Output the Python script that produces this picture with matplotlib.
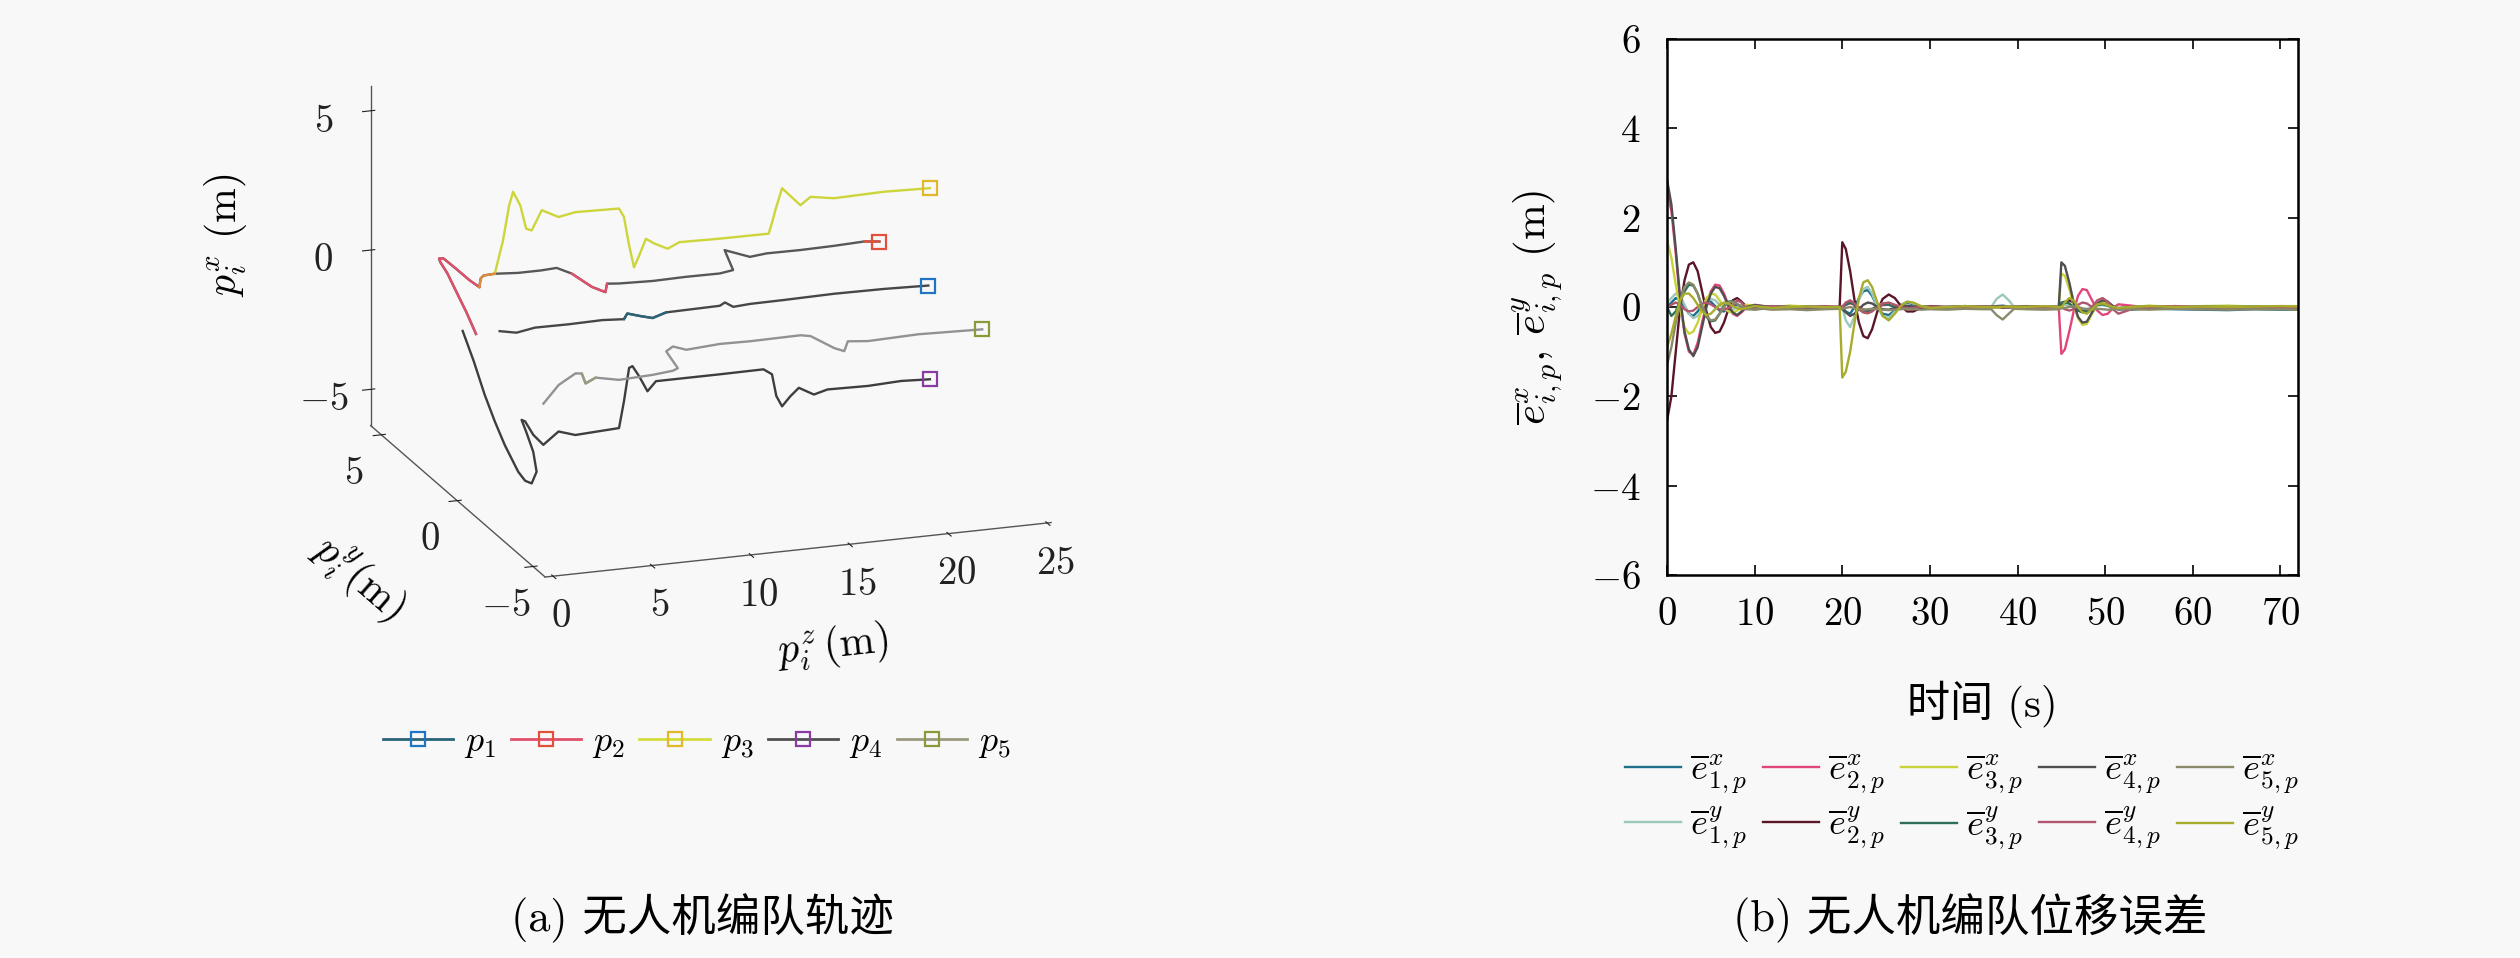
import matplotlib
matplotlib.use("Agg")
import matplotlib.pyplot as plt
from matplotlib.legend_handler import HandlerTuple
from matplotlib.lines import Line2D

plt.rcParams['font.family'] = ['cmr10', 'Noto Sans CJK SC', 'DejaVu Sans']
plt.rcParams['mathtext.fontset'] = 'cm'
plt.rcParams['axes.formatter.use_mathtext'] = True
plt.rcParams['axes.unicode_minus'] = True

# ---------------- (a) UAV formation trajectories ----------------
# columns: p^z (forward), p^y (lateral), p^x (vertical)
p1_z = [1.75, 2.60, 3.54, 5.24, 6.94, 8.04, 8.21, 8.81, 9.49, 10.17, 12.89, 13.15, 13.57, 14.42, 16.12, 18.67, 21.22, 23.44]
p1_y = [0.0] * 18
p1_x = [-0.38, -0.50, -0.39, -0.40, -0.38, -0.43, -0.24, -0.37, -0.50, -0.35, -0.32, -0.22, -0.41, -0.37, -0.36, -0.33, -0.35, -0.40]

p2_z = [3.24, 2.76, 2.30, 1.79, 1.44, 1.37, 1.59, 2.20, 2.92, 3.41, 3.48, 3.63, 4.18, 5.37, 6.55, 7.32, 8.08, 9.11, 9.79, 9.87,
        10.47, 12.17, 13.87, 15.57, 16.25, 15.82, 16.42, 17.10, 17.95, 19.65, 21.35, 22.88, 23.65]
p2_y = [3.5] * 33
p2_x = [-2.25, -1.44, -0.74, 0.04, 0.46, 0.60, 0.59, 0.19, -0.30, -0.58, -0.27, -0.18, -0.16, -0.22, -0.22, -0.19, -0.45, -1.01, -1.25, -0.95,
        -0.99, -1.03, -1.01, -1.02, -0.95, -0.20, -0.36, -0.54, -0.48, -0.49, -0.47, -0.43, -0.49]

p3_z = [1.50, 1.92, 2.23, 2.43, 2.79, 3.09, 3.37, 3.88, 4.73, 5.58, 7.79, 8.04, 8.30, 8.55, 8.81, 9.15, 9.57, 10.25, 10.85, 12.89,
        15.36, 15.54, 15.70, 16.04, 16.46, 16.97, 17.48, 18.66, 21.21, 23.52]
p3_y = [0.0] * 30
p3_x = [1.69, 2.86, 4.10, 4.57, 4.06, 3.20, 3.11, 3.80, 3.49, 3.60, 3.56, 3.24, 2.20, 1.39, 1.80, 2.37, 2.17, 1.93, 2.12, 2.09,
        2.08, 2.48, 2.90, 3.66, 3.35, 2.98, 3.24, 3.10, 3.14, 3.09]

p4_z = [-0.12, 0.44, 0.99, 1.51, 2.01, 2.69, 3.04, 3.37, 3.62, 3.45, 3.09, 2.86, 3.04, 3.45, 3.96, 4.73, 5.58, 7.79, 8.04, 8.30,
        8.47, 8.81, 9.23, 9.66, 10.51, 12.89, 15.10, 15.53, 15.75, 16.04, 16.46, 16.89, 17.65, 18.34, 20.38, 22.07, 23.52]
p4_y = [0.0] * 37
p4_x = [-0.23, -1.36, -2.60, -3.61, -4.49, -5.50, -5.85, -5.97, -5.57, -4.84, -4.09, -3.65, -3.72, -4.23, -4.63, -4.21, -4.40, -4.32, -3.38, -2.20,
        -2.15, -2.54, -3.11, -2.78, -2.78, -2.78, -2.77, -2.98, -3.78, -4.17, -3.84, -3.57, -3.87, -3.74, -3.77, -3.72, -3.77]

p5_z = [1.28, 2.05, 2.90, 3.22, 3.41, 3.92, 5.11, 6.81, 7.83, 8.08, 7.49, 7.83, 8.51, 10.21, 11.74, 14.29, 14.80, 15.99, 16.50, 16.68,
        17.70, 20.25, 23.48]
p5_y = [-3.5] * 23
p5_x = [-1.29, -0.68, -0.33, -0.36, -0.73, -0.56, -0.73, -0.68, -0.61, -0.54, 0.11, 0.26, 0.09, 0.17, 0.15, 0.17, 0.10, -0.42, -0.57, -0.23,
        -0.30, -0.25, -0.32]

traj_labels = [r'$p_1$', r'$p_2$', r'$p_3$', r'$p_4$', r'$p_5$']

# ---------------- (b) position errors ----------------
t = [0, 0.5, 1, 1.5, 2, 2.5, 3, 3.5, 4, 4.5,
     5, 5.5, 6, 6.5, 7, 7.5, 8, 8.5, 9, 10,
     11, 12, 14, 16, 18, 19.7, 20, 20.4, 20.9, 21.4,
     21.9, 22.4, 22.9, 23.4, 24, 24.6, 25.3, 26, 26.7, 27.4,
     28.1, 29, 30, 32, 34, 36, 37, 37.6, 38.3, 39,
     39.6, 41, 43, 44.7, 45, 45.4, 45.9, 46.4, 46.9, 47.4,
     47.9, 48.5, 49.1, 49.7, 50.3, 50.9, 51.5, 53, 55, 58,
     61, 64, 67, 70, 72]

e1x = [0, 0.10, 0.20, 0.15, 0.00, -0.15, -0.20, -0.10, 0.05, 0.15,
       0.12, 0.02, -0.08, -0.10, -0.04, 0.03, 0.05, 0.02, -0.02, -0.03,
       -0.01, 0.01, 0.02, 0.00, -0.02, 0.00, 0.00, -0.10, -0.15, 0.00,
       0.20, 0.35, 0.38, 0.25, 0.00, -0.15, -0.18, -0.08, 0.05, 0.10,
       0.06, 0.00, -0.03, 0.00, 0.02, 0.00, -0.01, 0.02, 0.03, 0.01,
       0.00, -0.02, 0.00, 0.00, 0.05, 0.08, 0.05, -0.02, -0.08, -0.10,
       -0.08, 0.00, 0.06, 0.08, 0.04, -0.02, -0.05, -0.06, -0.03, -0.05,
       -0.06, -0.07, -0.05, -0.06, -0.06]
e2x = [2.60, 2.15, 1.20, 0.10, -0.60, -1.00, -1.07, -0.80, -0.35, 0.05,
       0.35, 0.50, 0.48, 0.30, 0.05, -0.15, -0.20, -0.12, -0.02, 0.05,
       0.02, 0.00, -0.03, 0.00, 0.02, 0.00, 0.02, 0.05, 0.08, 0.05,
       0.00, -0.05, -0.08, -0.05, 0.00, 0.04, 0.05, 0.02, -0.02, -0.03,
       0.00, 0.01, 0.00, -0.02, 0.00, 0.01, 0.00, 0.00, 0.02, 0.00,
       0.00, -0.02, 0.00, 0.00, -1.05, -0.95, -0.55, -0.10, 0.25, 0.40,
       0.38, 0.15, -0.08, -0.18, -0.15, -0.02, 0.06, 0.03, -0.02, 0.02,
       -0.03, 0.00, -0.03, -0.04, -0.04]
e3x = [1.50, 1.10, 0.50, -0.05, -0.45, -0.60, -0.55, -0.35, -0.05, 0.20,
       0.30, 0.28, 0.15, 0.00, -0.10, -0.13, -0.08, 0.00, 0.05, 0.03,
       -0.02, 0.00, 0.03, 0.01, -0.02, 0.00, 0.00, 0.08, 0.12, 0.06,
       -0.05, -0.12, -0.14, -0.08, 0.02, 0.08, 0.08, 0.03, -0.03, -0.05,
       -0.02, 0.02, 0.00, -0.02, 0.01, 0.00, 0.00, -0.02, 0.00, 0.01,
       0.00, 0.02, 0.00, 0.00, 0.75, 0.70, 0.40, 0.05, -0.25, -0.40,
       -0.38, -0.15, 0.05, 0.12, 0.10, 0.00, -0.05, 0.00, 0.03, 0.00,
       0.02, 0.03, 0.01, 0.02, 0.02]
e4x = [2.85, 2.30, 1.30, 0.20, -0.55, -0.95, -1.10, -0.90, -0.45, 0.00,
       0.30, 0.45, 0.42, 0.25, 0.02, -0.12, -0.18, -0.10, 0.00, 0.04,
       0.02, 0.00, -0.02, 0.01, 0.00, 0.00, -0.05, -0.12, -0.20, -0.15,
       -0.05, 0.05, 0.10, 0.08, 0.00, -0.05, -0.06, -0.02, 0.02, 0.03,
       0.01, 0.00, -0.02, 0.00, 0.02, 0.00, 0.00, 0.01, 0.00, -0.01,
       0.00, 0.01, 0.00, 0.00, 1.00, 0.92, 0.55, 0.10, -0.22, -0.35,
       -0.33, -0.12, 0.08, 0.15, 0.12, 0.02, -0.05, -0.02, 0.00, -0.02,
       -0.02, -0.03, -0.02, -0.03, -0.03]
e5x = [-1.30, -0.90, -0.35, 0.15, 0.45, 0.55, 0.50, 0.30, 0.02, -0.20,
       -0.30, -0.28, -0.15, 0.00, 0.10, 0.12, 0.07, 0.00, -0.05, -0.06,
       -0.04, -0.06, -0.05, -0.07, -0.05, -0.04, -0.04, -0.02, 0.00, -0.03,
       -0.05, -0.06, -0.05, -0.04, -0.05, -0.06, -0.07, -0.06, -0.05, -0.04,
       -0.05, -0.06, -0.05, -0.06, -0.04, -0.05, -0.05, -0.18, -0.28, -0.15,
       -0.04, -0.05, -0.06, -0.05, -0.03, -0.02, 0.00, 0.02, 0.00, -0.03,
       -0.05, -0.06, -0.04, -0.05, -0.06, -0.05, -0.04, -0.05, -0.06, -0.04,
       -0.05, -0.06, -0.05, -0.05, -0.06]
e1y = [0.10, 0.20, 0.30, 0.25, 0.05, -0.15, -0.25, -0.20, -0.05, 0.10,
       0.18, 0.15, 0.05, -0.05, -0.10, -0.06, 0.00, 0.04, 0.03, 0.00,
       -0.02, 0.00, 0.01, 0.00, -0.01, 0.00, 0.00, -0.30, -0.45, -0.20,
       0.15, 0.40, 0.45, 0.30, 0.00, -0.20, -0.25, -0.10, 0.05, 0.12,
       0.08, 0.00, -0.02, 0.00, 0.01, 0.00, 0.00, 0.18, 0.28, 0.15,
       0.00, -0.01, 0.00, 0.00, 0.03, 0.05, 0.03, 0.00, -0.03, -0.05,
       -0.04, 0.00, 0.03, 0.04, 0.02, 0.00, -0.02, 0.01, 0.00, 0.01,
       0.00, -0.01, 0.00, 0.00, 0.00]
e2y = [-2.55, -2.00, -1.00, 0.00, 0.60, 0.95, 1.00, 0.80, 0.35, -0.10,
       -0.45, -0.58, -0.55, -0.35, -0.05, 0.15, 0.20, 0.12, 0.02, -0.05,
       -0.03, 0.00, 0.02, 0.00, -0.02, 0.00, 1.45, 1.30, 0.80, 0.15,
       -0.35, -0.65, -0.70, -0.50, -0.10, 0.18, 0.28, 0.20, 0.02, -0.10,
       -0.10, -0.02, 0.02, 0.00, -0.02, 0.00, 0.01, 0.00, -0.02, 0.00,
       0.00, 0.02, 0.00, 0.00, 0.05, 0.10, 0.15, 0.10, 0.00, -0.10,
       -0.12, -0.05, 0.05, 0.10, 0.08, 0.00, -0.05, -0.02, 0.02, 0.00,
       -0.02, 0.02, -0.02, 0.00, 0.00]
e3y = [0.00, -0.20, -0.10, 0.15, 0.35, 0.50, 0.48, 0.30, 0.00, -0.22,
       -0.32, -0.30, -0.15, 0.02, 0.12, 0.13, 0.07, 0.00, -0.04, -0.03,
       0.00, 0.02, 0.00, -0.02, 0.00, 0.00, 0.00, 0.05, 0.10, 0.05,
       -0.05, -0.10, -0.10, -0.05, 0.02, 0.06, 0.05, 0.00, -0.03, -0.02,
       0.00, 0.01, 0.00, -0.01, 0.00, 0.00, 0.00, 0.00, 0.01, 0.00,
       0.00, 0.00, 0.00, 0.00, 0.10, 0.12, 0.08, 0.00, -0.08, -0.12,
       -0.10, -0.02, 0.05, 0.06, 0.03, -0.01, -0.03, 0.00, 0.01, 0.00,
       0.01, 0.00, 0.01, 0.00, 0.00]
e4y = [0.00, 0.05, 0.10, 0.05, -0.05, -0.10, -0.08, 0.00, 0.08, 0.10,
       0.06, 0.00, -0.05, -0.06, -0.02, 0.02, 0.15, 0.10, -0.02, -0.05,
       0.00, 0.02, 0.00, -0.01, 0.00, 0.00, 0.00, 0.10, 0.15, 0.08,
       -0.05, -0.12, -0.14, -0.10, 0.00, 0.08, 0.10, 0.05, 0.00, -0.03,
       -0.02, 0.00, 0.01, 0.00, 0.00, 0.01, 0.00, 0.00, 0.00, 0.00,
       0.00, 0.00, 0.00, 0.00, 0.00, -0.05, -0.08, -0.05, 0.05, 0.10,
       0.08, 0.00, 0.15, 0.20, 0.12, -0.05, -0.15, -0.05, 0.00, 0.02,
       0.00, -0.02, 0.00, -0.01, -0.01]
e5y = [-0.90, -0.60, -0.20, 0.15, 0.30, 0.30, 0.20, 0.05, -0.10, -0.18,
       -0.15, -0.05, 0.05, 0.10, 0.08, 0.02, -0.03, -0.05, -0.02, 0.02,
       0.00, -0.02, 0.00, 0.01, 0.00, 0.00, -1.58, -1.45, -1.00, -0.35,
       0.20, 0.55, 0.60, 0.45, 0.10, -0.20, -0.30, -0.15, 0.03, 0.12,
       0.10, 0.02, -0.02, 0.00, 0.02, 0.00, 0.00, 0.00, 0.00, 0.01,
       0.00, 0.00, 0.02, 0.00, 0.00, 0.10, 0.20, 0.15, 0.00, -0.12,
       -0.15, -0.05, 0.06, 0.08, 0.04, 0.00, -0.02, 0.00, 0.02, 0.00,
       0.01, 0.00, 0.01, 0.02, 0.01]

err_x = [e1x, e2x, e3x, e4x, e5x]
err_y = [e1y, e2y, e3y, e4y, e5y]
err_x_labels = [r'$\overline{e}^{x}_{%d,p}$' % i for i in range(1, 6)]
err_y_labels = [r'$\overline{e}^{y}_{%d,p}$' % i for i in range(1, 6)]
col_x = ['#1d6f8a', '#e0467a', '#c8d23a', '#4f4f4f', '#8a8a6a']
col_y = ['#9cc7bd', '#5a1628', '#2e6e5a', '#b0566e', '#a8ac2c']

# ---------------- figure ----------------
fig = plt.figure(figsize=(25.2, 9.58), dpi=100)
fig.patch.set_facecolor('#f8f8f8')

# ---- (a) 3D trajectories ----
ax3 = fig.add_axes([0.0784, 0.3128, 0.40, 0.72], projection='3d')
ax3.set_proj_type('ortho')
ax3.view_init(elev=17.8, azim=-109.4)
ax3.set_box_aspect((532, 521, 354), zoom=1.17)
ax3.set_facecolor('none')
for axis in (ax3.xaxis, ax3.yaxis, ax3.zaxis):
    axis.set_pane_color((1, 1, 1, 0))
    axis.line.set_color('#555555')
    axis.line.set_linewidth(1.0)
ax3.grid(False)

trajs = [(p1_z, p1_y, p1_x), (p2_z, p2_y, p2_x), (p3_z, p3_y, p3_x), (p4_z, p4_y, p4_x), (p5_z, p5_y, p5_x)]
main_col = ['#474747', '#575757', '#cdd53a', '#3e3e3e', '#929292']
leg_line_col = ['#2a6478', '#e0506a', '#d4dc3c', '#505050', '#9a9a7e']
mark_col = ['#1f74c4', '#e0503a', '#e0b828', '#8a3aa0', '#8a9a3a']
overlay_idx = [(5, 10), (0, 10), None, None, (3, 6)]
handles = []
for k, (zz, yy, xx) in enumerate(trajs):
    ax3.plot(zz, yy, xx, color=main_col[k], lw=1.7)
    if overlay_idx[k] is not None:
        a, b = overlay_idx[k]
        ax3.plot(zz[a:b], yy[a:b], xx[a:b], color=leg_line_col[k], lw=1.7)
    mk, = ax3.plot(zz[-1:], yy[-1:], xx[-1:], ls='none', marker='s', ms=10,
                   mfc='none', mec=mark_col[k], mew=1.6)
    proxy = Line2D([], [], color=leg_line_col[k], lw=2.0)
    handles.append((proxy, mk))
# extra coloured pieces of p2
ax3.plot(p2_z[9:13], p2_y[9:13], p2_x[9:13], color='#e08a3a', lw=1.7)
ax3.plot(p2_z[16:20], p2_y[16:20], p2_x[16:20], color='#e0506a', lw=1.7)
ax3.plot(p2_z[31:], p2_y[31:], p2_x[31:], color='#e0503a', lw=1.7)

ax3.set_xlim(-0.4, 25.2)
ax3.set_ylim(-5.8, 5.7)
ax3.set_zlim(-6.3, 5.9)
ax3.set_xticks([0, 5, 10, 15, 20, 25])
ax3.set_yticks([-5, 0, 5])
ax3.set_zticks([-5, 0, 5])
ax3.tick_params(labelsize=28, colors='#222222')
ax3.tick_params(axis='x', pad=4)
ax3.tick_params(axis='y', pad=6)
ax3.tick_params(axis='z', pad=10)
ax3.set_xlabel(r'$p_i^z\,(\mathrm{m})$', fontsize=30, labelpad=30)
ax3.set_ylabel(r'$p_i^y(\mathrm{m})$', fontsize=30, labelpad=30)
ax3.set_zlabel(r'$p_i^x$ (m)', fontsize=30, labelpad=34)

fig.legend(handles, traj_labels, handler_map={tuple: HandlerTuple(ndivide=1, pad=0)},
           loc='center', bbox_to_anchor=(697 / 2520, 1 - 743 / 958), ncol=5, frameon=False,
           fontsize=26, handlelength=1.95, handletextpad=0.3, columnspacing=0.4)

# ---- (b) errors ----
ax = fig.add_axes([1667 / 2520, 1 - 575 / 958, 631 / 2520, 536 / 958])
ax.set_facecolor('white')
lines = []
labels = []
for i in range(5):
    lx, = ax.plot(t, err_x[i], color=col_x[i], lw=1.7)
    ly, = ax.plot(t, err_y[i], color=col_y[i], lw=1.7)
    lines += [lx, ly]
    labels += [err_x_labels[i], err_y_labels[i]]
ax.set_xlim(0, 72)
ax.set_ylim(-6, 6)
ax.set_xticks([0, 10, 20, 30, 40, 50, 60, 70])
ax.set_yticks([-6, -4, -2, 0, 2, 4, 6])
ax.tick_params(direction='in', top=True, right=True, labelsize=28, length=7, width=1.2)
ax.tick_params(axis='y', pad=19)
ax.tick_params(axis='x', pad=16)
for s in ax.spines.values():
    s.set_linewidth(1.8)
ax.set_xlabel('时间 (s)', fontsize=31, labelpad=34)
ax.set_ylabel(r'$\overline{e}^{x}_{i,p}$, $\overline{e}^{y}_{i,p}$ (m)', fontsize=31, labelpad=18)

fig.legend(lines, labels, loc='center', bbox_to_anchor=(1962 / 2520, 1 - 802 / 958), ncol=5,
           frameon=False, fontsize=26, handlelength=1.55, handletextpad=0.25, columnspacing=0.45,
           labelspacing=0.25)

fig.text(702 / 2520, 1 - 918 / 958, '(a) 无人机编队轨迹', ha='center', va='center', fontsize=32)
fig.text(1970 / 2520, 1 - 918 / 958, '(b) 无人机编队位移误差', ha='center', va='center', fontsize=32)

fig.savefig('out.png', dpi=100, facecolor=fig.get_facecolor())
